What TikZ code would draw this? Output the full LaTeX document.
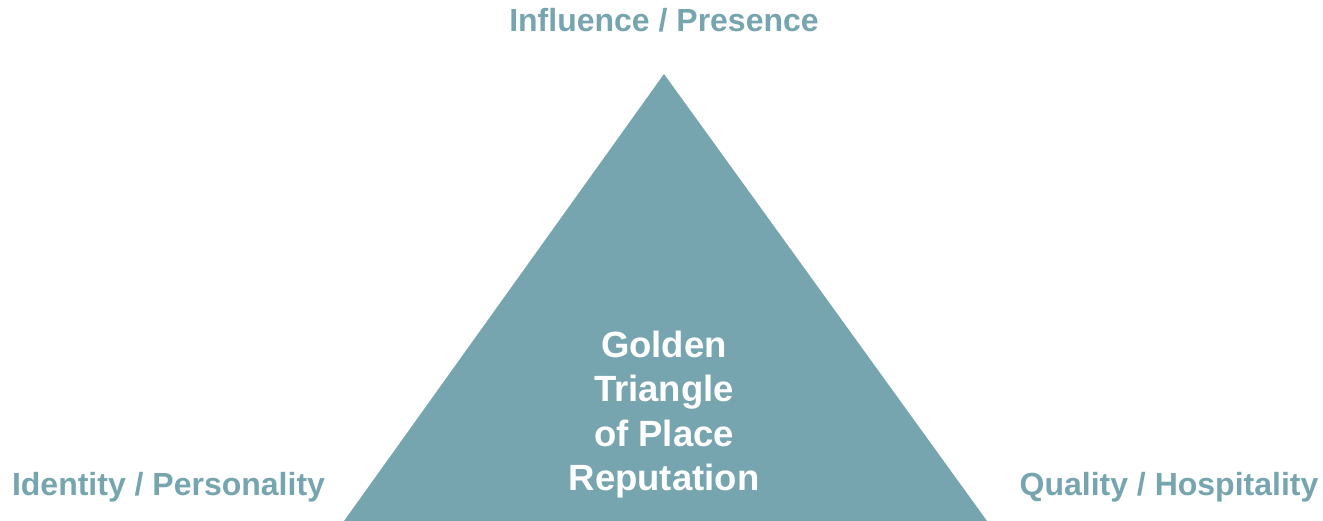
\documentclass[tikz,border=0pt]{standalone}
\usepackage{fontspec}
\setmainfont{Liberation Sans}
\definecolor{teal1}{HTML}{76A5AF}
\tikzset{lbl/.style={text=teal1, font=\fontsize{32}{38}\selectfont\bfseries, inner sep=0pt, anchor=base},
  mid/.style={text=white, font=\fontsize{36.5}{44.5}\selectfont\bfseries, align=center, inner sep=0pt}}
\begin{document}
\begin{tikzpicture}[x=1pt,y=-1pt]
\useasboundingbox (0,0) rectangle (1323,521);
\fill[teal1] (664,74) coordinate (apex) -- (987,521) coordinate (br) -- (344,521) coordinate (bl) -- cycle;
\node[lbl] (top) at (664,32) {Influence / Presence};
\node[lbl] (left) at (168.5,495.5) {Identity / Personality};
\node[lbl] (right) at (1169,495.5) {Quality / Hospitality};
\node[mid, anchor=south] (center) at (664,498.5) {Golden\\Triangle\\of Place\\Reputation};
\end{tikzpicture}
\end{document}
